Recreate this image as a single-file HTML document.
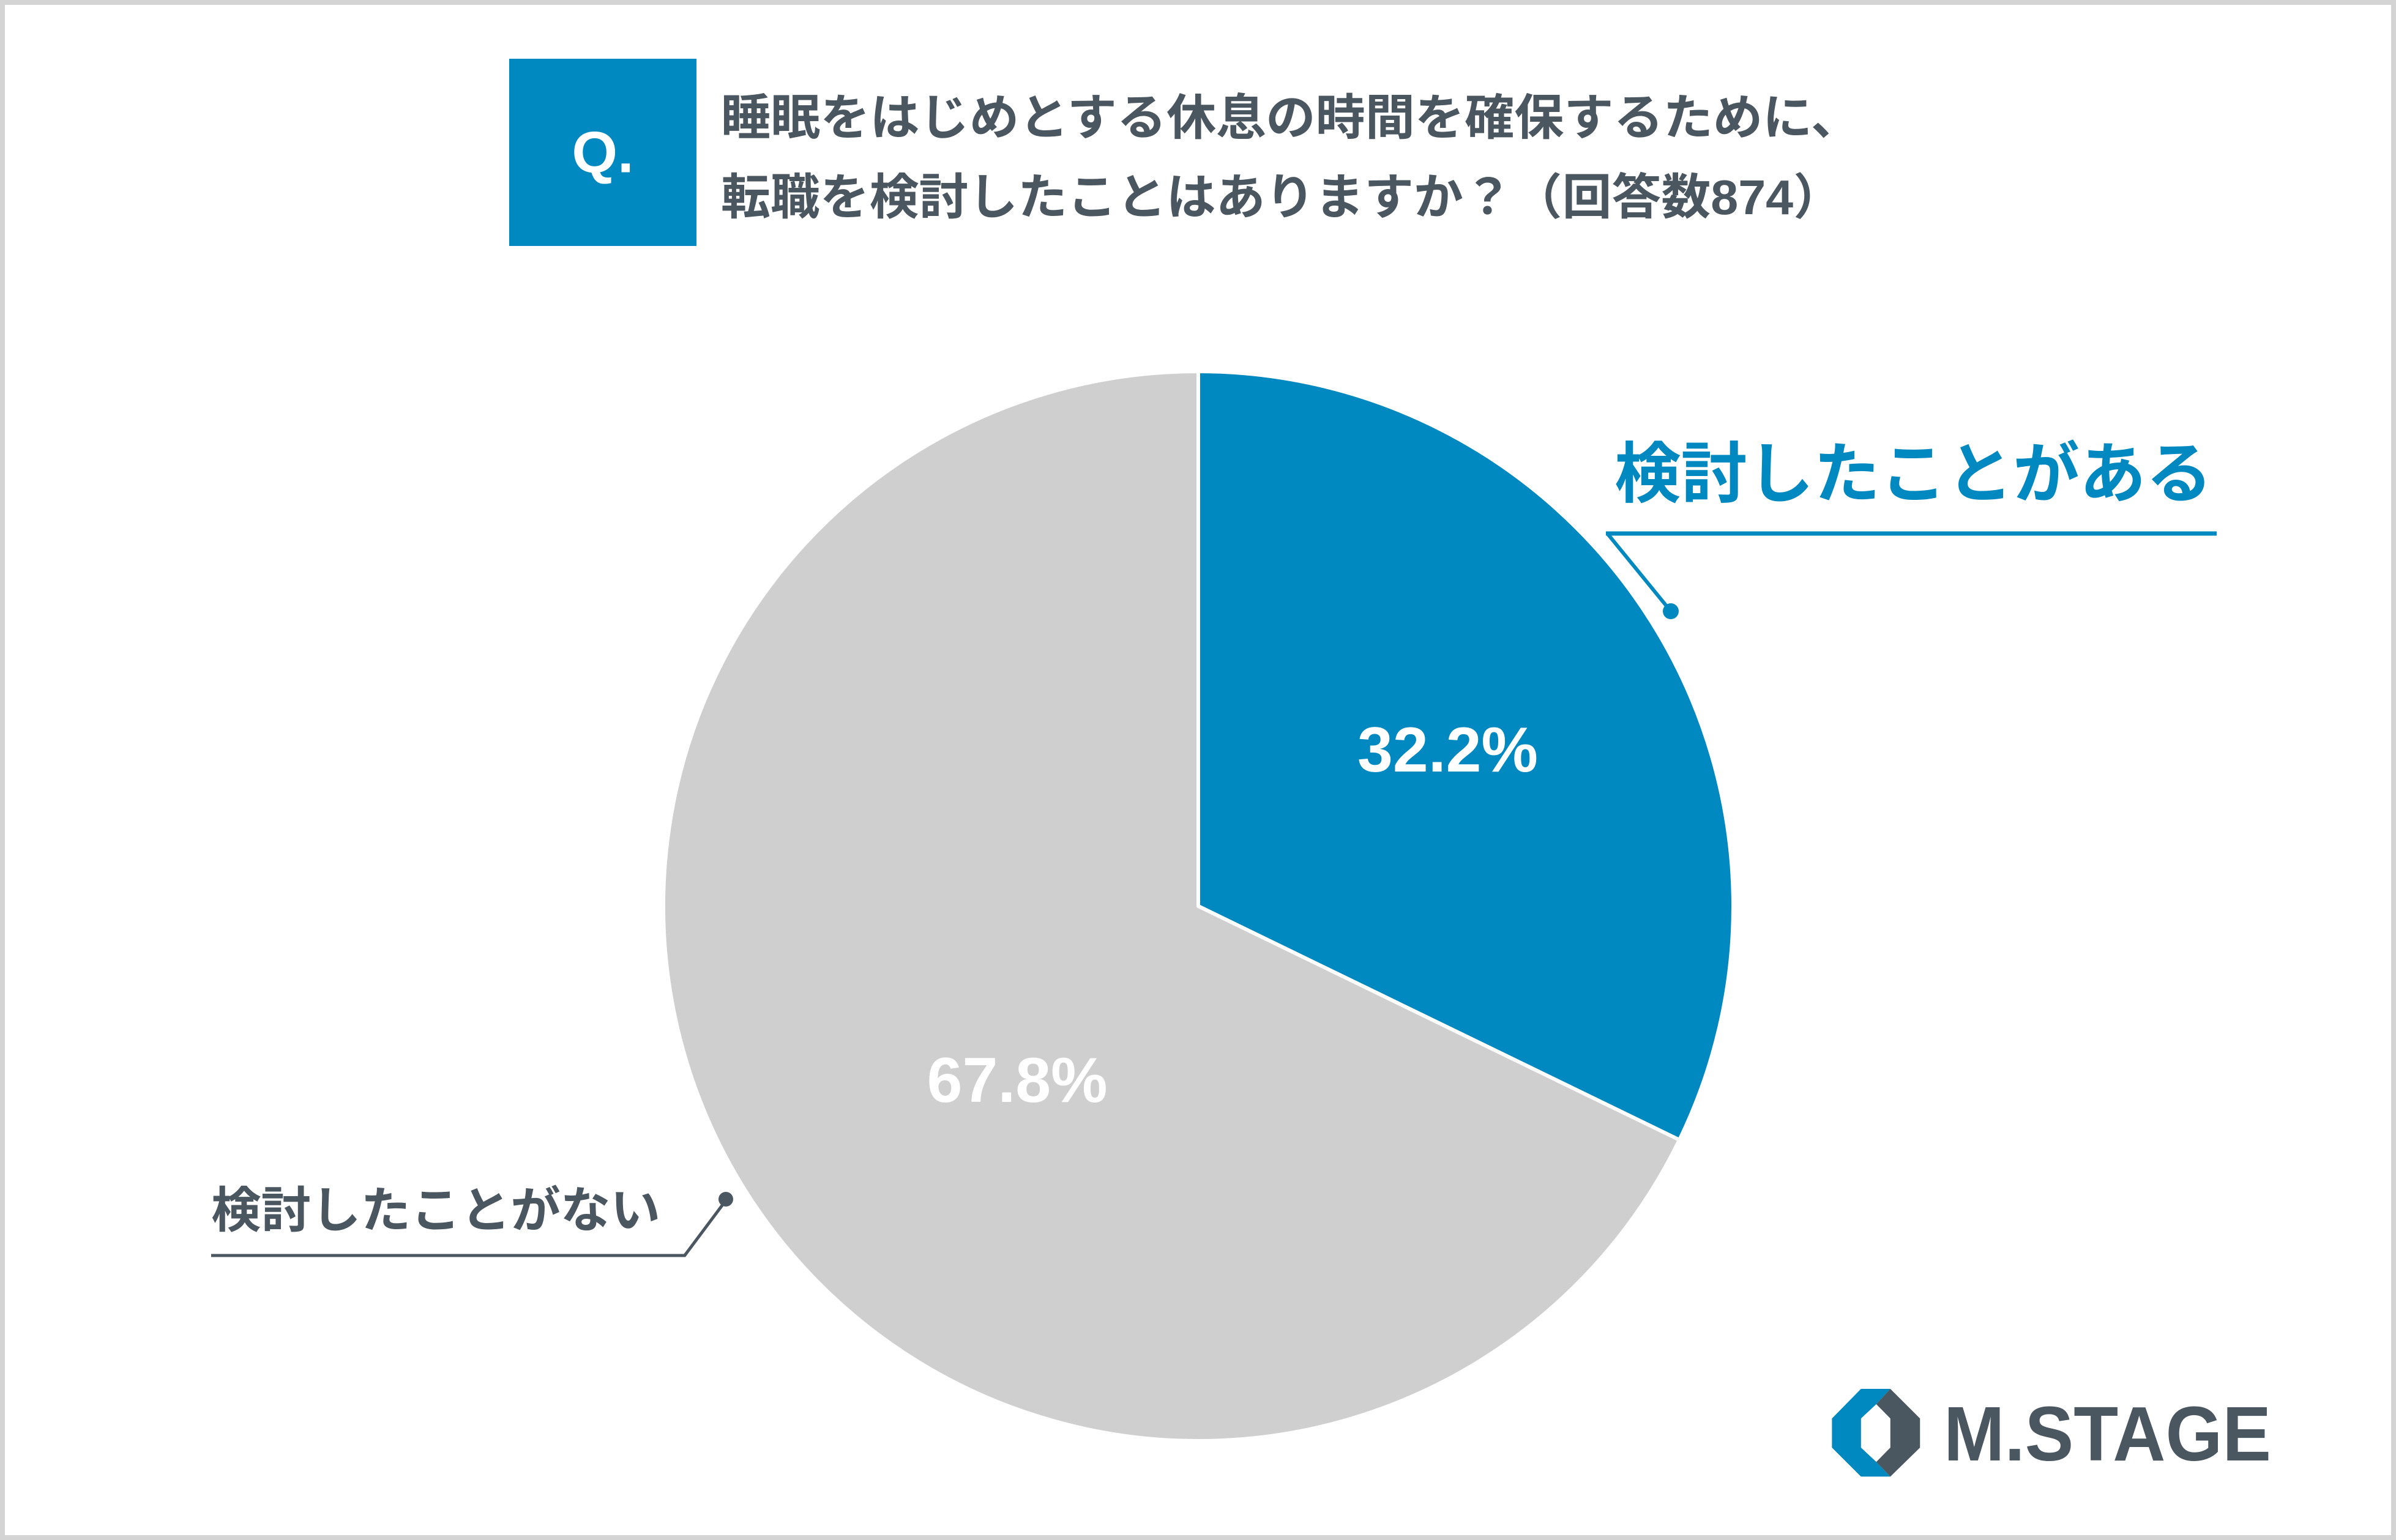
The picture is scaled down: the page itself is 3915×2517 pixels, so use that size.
<!DOCTYPE html>
<html><head><meta charset="utf-8"><style>
html,body{margin:0;padding:0;background:#fff}
svg{display:block}
text{font-family:"Liberation Sans","Noto Sans CJK JP",sans-serif;font-weight:bold}
</style></head><body>
<svg width="3915" height="2517" viewBox="0 0 3915 2517">
<rect x="4" y="4" width="3907" height="2509" fill="#fff" stroke="#d4d4d4" stroke-width="8"/>
<rect x="832" y="96" width="306" height="306" fill="#0088c0"/>
<text x="985" y="249" font-size="96" fill="#fff" text-anchor="middle" dominant-baseline="central">Q.</text>
<text x="1178" y="220" font-size="80" fill="#4a5660" textLength="1862" lengthAdjust="spacingAndGlyphs">睡眠をはじめとする休息の時間を確保するために、</text>
<text x="1178" y="350" font-size="80" fill="#4a5660" textLength="1833" lengthAdjust="spacingAndGlyphs">転職を検討したことはありますか？（回答数874）</text>
<g id="pie"></g>
<g>
<text x="2638" y="812" font-size="108" fill="#0088c0" textLength="977" lengthAdjust="spacingAndGlyphs">検討したことがある</text>
<line x1="2624" y1="872" x2="3622" y2="872" stroke="#0088c0" stroke-width="7"/>
<line x1="2628" y1="874" x2="2730" y2="999" stroke="#0088c0" stroke-width="6"/>
<circle cx="2730" cy="999" r="13" fill="#0088c0"/>
</g>
<g>
<text x="345" y="2006" font-size="80" fill="#4a5660" textLength="734" lengthAdjust="spacingAndGlyphs">検討したことがない</text>
<line x1="345" y1="2052" x2="1120" y2="2052" stroke="#4a5660" stroke-width="5"/>
<line x1="1118" y1="2053" x2="1186" y2="1962" stroke="#4a5660" stroke-width="5"/>
<circle cx="1186" cy="1960" r="12" fill="#4a5660"/>
</g>
<g>
<g transform="translate(2950,2230) scale(0.5102,0.3333)">
<polygon points="178,120 272,120 227,195 178,265 178,408 227,478 272,550 178,550 85,408 85,265" fill="#0088c0"/>
<polygon points="272,120 367,265 367,408 272,550 227,478 272,408 272,265 227,195" fill="#4a5660"/>
</g>
<text x="3176" y="2387" font-size="126" fill="#4a5660" font-weight="normal" textLength="535" lengthAdjust="spacingAndGlyphs">M.STAGE</text>
</g>
</svg>
<script>
const categories = ["検討したことがある", "検討したことがない"];
const values = [32.2, 67.8];
const valueLabels = ["32.2%", "67.8%"];
const colors = ["#0088c0", "#d0cfd0"];
const NS = "http://www.w3.org/2000/svg";
const cx = 1958, cy = 1481, r = 874;
const labelRadius = [0.55, 0.47];
const labelAngleShift = [0, -0.033];
const g = document.getElementById("pie");
const total = values.reduce((a, b) => a + b, 0);
function pt(frac, rad) {
  const a = frac * 2 * Math.PI;
  return [cx + rad * Math.sin(a), cy - rad * Math.cos(a)];
}
let acc = 0;
values.forEach((v, i) => {
  const f0 = acc / total, f1 = (acc + v) / total;
  const p0 = pt(f0, r), p1 = pt(f1, r);
  const large = (f1 - f0) > 0.5 ? 1 : 0;
  const path = document.createElementNS(NS, "path");
  path.setAttribute("d", `M${cx},${cy} L${p0[0]},${p0[1]} A${r},${r} 0 ${large} 1 ${p1[0]},${p1[1]} Z`);
  path.setAttribute("fill", colors[i]);
  path.setAttribute("stroke", "#fff");
  path.setAttribute("stroke-width", "6");
  path.setAttribute("stroke-linejoin", "round");
  
  
  g.appendChild(path);
  const mid = (f0 + f1) / 2 + labelAngleShift[i];
  const lp = pt(mid, r * labelRadius[i]);
  const t = document.createElementNS(NS, "text");
  t.setAttribute("x", lp[0]);
  t.setAttribute("y", lp[1]);
  t.setAttribute("font-size", "104");
  t.setAttribute("fill", "#fff");
  t.setAttribute("text-anchor", "middle");
  t.setAttribute("dominant-baseline", "central");
  t.textContent = valueLabels[i];
  
  
  g.appendChild(t);
  acc += v;
});
</script>
</body></html>
